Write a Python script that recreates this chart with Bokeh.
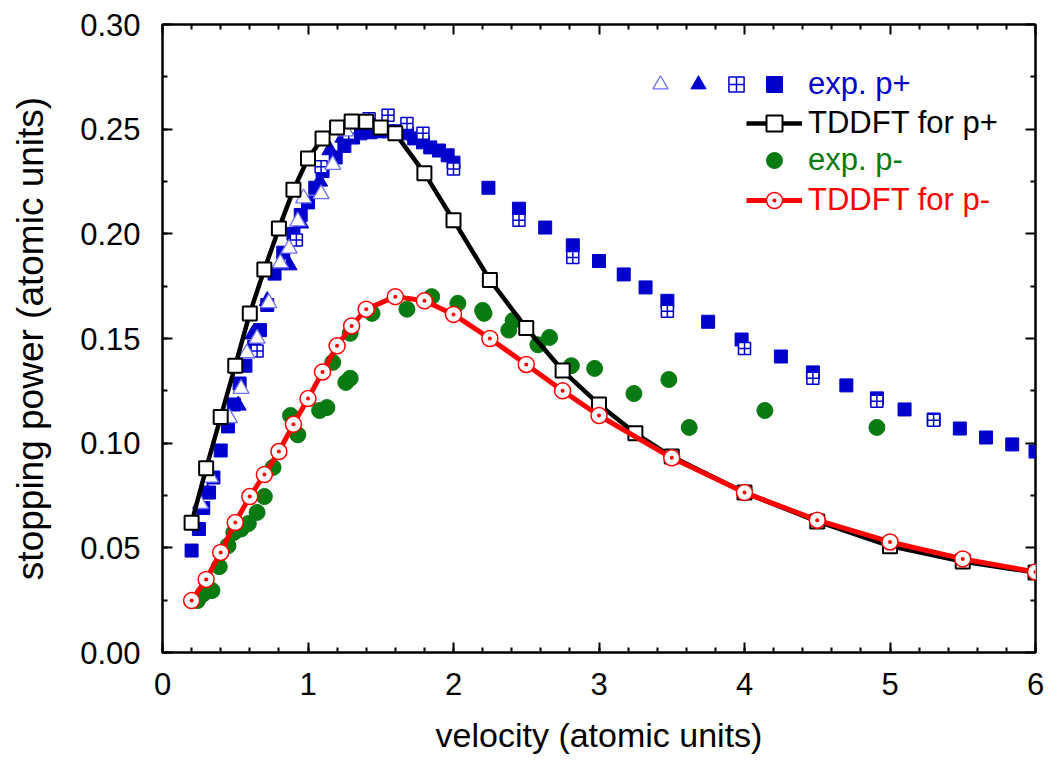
from bokeh.plotting import figure
from bokeh.models import (LinearAxis, Range1d, Legend, LegendItem,
                          PrintfTickFormatter, FixedTicker)
from bokeh.embed import file_html
from bokeh.resources import INLINE
from bokeh.core.properties import value

FONT = "Liberation Sans"

# ---------------- data ----------------
# TDDFT for p+
tddft_pp_v = [0.2, 0.3, 0.4, 0.5, 0.6, 0.7, 0.8, 0.9, 1.0, 1.1, 1.2, 1.3, 1.4, 1.5, 1.6,
              1.8, 2.0, 2.25, 2.5, 2.75, 3.0, 3.25, 3.5, 4.0, 4.5, 5.0, 5.5, 6.0]
tddft_pp_s = [0.062, 0.088, 0.1125, 0.137, 0.162, 0.183, 0.2026, 0.221, 0.236, 0.2456, 0.2508,
              0.2537, 0.2536, 0.2508, 0.248, 0.229, 0.2065, 0.178, 0.155, 0.1347, 0.1185,
              0.1047, 0.0936, 0.0764, 0.0626, 0.0508, 0.0435, 0.0382]

# TDDFT for p-
tddft_pm_v = [0.2, 0.3, 0.4, 0.5, 0.6, 0.7, 0.8, 0.9, 1.0, 1.1, 1.2, 1.3, 1.4, 1.6, 1.8,
              2.0, 2.25, 2.5, 2.75, 3.0, 3.5, 4.0, 4.5, 5.0, 5.5, 6.0]
tddft_pm_s = [0.0248, 0.0349, 0.0478, 0.0621, 0.0745, 0.085, 0.096, 0.109, 0.1213, 0.134,
              0.1465, 0.156, 0.164, 0.170, 0.168, 0.1615, 0.150, 0.1376, 0.125, 0.1132,
              0.093, 0.0764, 0.0632, 0.0528, 0.0447, 0.0385]

# exp. p+ : filled squares
exp_sq_v = [0.20, 0.25, 0.28, 0.32, 0.35, 0.40, 0.45, 0.49, 0.53, 0.57, 0.63, 0.67, 0.72, 0.77,
            0.83, 0.90, 0.95, 1.00, 1.05, 1.10, 1.19, 1.25, 1.31, 1.36, 1.43, 1.49, 1.55, 1.62,
            1.68, 1.73, 1.79, 1.84, 1.90, 1.96, 2.00, 2.24, 2.45, 2.63, 2.82, 3.00, 3.17, 3.32,
            3.47, 3.75, 3.98, 4.25, 4.47, 4.70, 4.91, 5.10, 5.30, 5.48, 5.66, 5.84, 6.00]
exp_sq_s = [0.0487, 0.059, 0.069, 0.0764, 0.0836, 0.0965, 0.108, 0.1185, 0.1285, 0.137, 0.146,
            0.154, 0.166, 0.181, 0.191, 0.200, 0.209, 0.215, 0.222, 0.230, 0.2365, 0.242, 0.246,
            0.248, 0.2485, 0.249, 0.249, 0.249, 0.248, 0.2456, 0.2437, 0.2413, 0.2398, 0.2375,
            0.234, 0.222, 0.212, 0.203, 0.1945, 0.187, 0.1806, 0.1744, 0.168, 0.158, 0.1495,
            0.1414, 0.1338, 0.1276, 0.1214, 0.1161, 0.1113, 0.107, 0.1027, 0.0994, 0.096]

# exp. p+ : squares with grid
exp_grid_v = [0.65, 0.92, 1.09, 1.28, 1.42, 1.55, 1.68, 1.79, 2.0, 2.45, 2.82, 3.47, 4.0,
              4.47, 4.91, 5.3]
exp_grid_s = [0.144, 0.197, 0.232, 0.248, 0.255, 0.2566, 0.2527, 0.248, 0.231, 0.2065, 0.1887,
              0.163, 0.1452, 0.131, 0.120, 0.111]

# exp. p+ : open triangles
exp_tri_o_v = [0.26, 0.33, 0.46, 0.54, 0.58, 0.65, 0.73, 0.81, 0.87, 0.93, 0.97, 1.09, 1.17, 1.26]
exp_tri_o_s = [0.071, 0.0836, 0.112, 0.126, 0.143, 0.150, 0.167, 0.186, 0.193, 0.206, 0.217,
               0.219, 0.233, 0.249]

# exp. p+ : filled triangles
exp_tri_f_v = [0.31, 0.52, 0.62, 0.72, 0.87, 0.95, 1.08, 1.15, 1.24]
exp_tri_f_s = [0.076, 0.118, 0.152, 0.168, 0.185, 0.205, 0.225, 0.240, 0.246]

# exp. p-
exp_pm_v = [0.24, 0.28, 0.34, 0.39, 0.45, 0.49, 0.54, 0.59, 0.65, 0.70, 0.76, 0.88, 0.93, 1.08,
            1.13, 1.17, 1.26, 1.29, 1.29, 1.44, 1.68, 1.85, 2.03, 2.2, 2.21, 2.38, 2.41, 2.58,
            2.66, 2.81, 2.97, 3.24, 3.48, 3.62, 4.14, 4.91]
exp_pm_s = [0.0248, 0.028, 0.0296, 0.041, 0.051, 0.0573, 0.059, 0.0616, 0.0669, 0.0745, 0.0884,
            0.1132, 0.104, 0.1156, 0.117, 0.1386, 0.129, 0.131, 0.1525, 0.162, 0.164, 0.170,
            0.1668, 0.1634, 0.162, 0.154, 0.1586, 0.147, 0.1505, 0.137, 0.1357, 0.1237, 0.1304,
            0.1075, 0.1156, 0.1075]

x_ticks = [0, 1, 2, 3, 4, 5, 6]
x_minor = [i / 5 for i in range(31)]
y_ticks = [0.0, 0.05, 0.10, 0.15, 0.20, 0.25, 0.30]
y_minor = [i * 0.025 for i in range(13)]

BLUE = "#0000cc"
LBLUE = "#6f6fff"
GREEN = "#087a12"
RED = "#ff0000"

# ---------------- figure ----------------
p = figure(width=1051, height=760, output_backend="svg", toolbar_location=None,
           x_range=Range1d(0, 6), y_range=Range1d(0, 0.30),
           min_border_left=162, min_border_right=16, min_border_top=24, min_border_bottom=108)
p.grid.visible = False
p.outline_line_color = "black"
p.outline_line_width = 2.5
p.background_fill_color = "white"
p.border_fill_color = "white"

def style_axis(ax, ticks, minor):
    ax.ticker = FixedTicker(ticks=ticks, minor_ticks=minor)
    ax.axis_line_color = None
    ax.major_tick_in = 10
    ax.major_tick_out = 0
    ax.minor_tick_in = 5
    ax.minor_tick_out = 0
    ax.major_tick_line_width = 2
    ax.minor_tick_line_width = 2
    ax.major_tick_line_color = "black"
    ax.minor_tick_line_color = "black"
    ax.major_label_text_font = FONT
    ax.major_label_text_color = "black"
    ax.major_label_text_font_size = "31px"

def mirror_axis(minor, length):
    # label-free axis: only minor ticks (which never carry labels)
    ax = LinearAxis(ticker=FixedTicker(ticks=[], minor_ticks=minor))
    ax.axis_line_color = None
    ax.major_tick_line_color = None
    ax.major_tick_in = 0
    ax.major_tick_out = 0
    ax.minor_tick_in = length
    ax.minor_tick_out = 0
    ax.minor_tick_line_width = 2
    ax.minor_tick_line_color = "black"
    ax.major_label_standoff = 0
    ax.axis_label_standoff = 0
    return ax

xb = p.xaxis[0]
yl = p.yaxis[0]
style_axis(xb, x_ticks, x_minor)
style_axis(yl, y_ticks, y_minor)
yl.formatter = PrintfTickFormatter(format="%.2f")
xb.major_label_standoff = 20
yl.major_label_standoff = 22
xb.axis_label = "velocity (atomic units)"
yl.axis_label = "stopping power (atomic units)"
for ax in (xb, yl):
    ax.axis_label_text_font = FONT
    ax.axis_label_text_font_style = "normal"
    ax.axis_label_text_color = "black"
xb.axis_label_text_font_size = "34px"
yl.axis_label_text_font_size = "37px"
xb.axis_label_standoff = 18
yl.axis_label_standoff = 26

x_only_minor = [t for t in x_minor if all(abs(t - m) > 1e-9 for m in x_ticks)]
y_only_minor = [t for t in y_minor if all(abs(t - m) > 1e-9 for m in y_ticks)]
p.add_layout(mirror_axis(x_ticks, 10), "above")
p.add_layout(mirror_axis(x_only_minor, 5), "above")
p.add_layout(mirror_axis(y_ticks, 10), "right")
p.add_layout(mirror_axis(y_only_minor, 5), "right")

# ---------------- glyphs ----------------
r_sq = p.scatter(exp_sq_v, exp_sq_s, marker="square", size=13, fill_color=BLUE,
                 line_color=BLUE, line_width=1)
r_trf = p.scatter(exp_tri_f_v, exp_tri_f_s, marker="triangle", size=16, fill_color=BLUE,
                  line_color=BLUE, line_width=1)
r_grid = p.scatter(exp_grid_v, exp_grid_s, marker="square_cross", size=12, fill_color="white",
                   line_color=BLUE, line_width=1.5)
r_tro = p.scatter(exp_tri_o_v, exp_tri_o_s, marker="triangle", size=16, fill_color="white",
                  line_color=LBLUE, line_width=1.3)
r_gr = p.scatter(exp_pm_v, exp_pm_s, marker="circle", size=16, fill_color=GREEN,
                 line_color=GREEN, line_width=1)

r_bl = p.line(tddft_pp_v, tddft_pp_s, line_color="black", line_width=4.5)
r_bs = p.scatter(tddft_pp_v, tddft_pp_s, marker="square", size=14, fill_color="white",
                 line_color="black", line_width=2)
r_rl = p.line(tddft_pm_v, tddft_pm_s, line_color=RED, line_width=5)
r_rc = p.scatter(tddft_pm_v, tddft_pm_s, marker="circle_dot", size=16, fill_color="white",
                 line_color=RED, line_width=1.5)

# ---------------- legends ----------------
def make_legend(items, loc, color="black", gw=56, orientation="vertical", standoff=6):
    leg = Legend(items=items, location=loc, orientation=orientation,
                 label_text_font=FONT, label_text_font_size="31px",
                 label_text_color=color, background_fill_alpha=0, border_line_alpha=0,
                 padding=0, margin=0, spacing=0, glyph_width=gw, glyph_height=40,
                 label_height=34, label_width=0, label_standoff=standoff)
    p.add_layout(leg)
    return leg

make_legend([LegendItem(label=value(""), renderers=[r_tro]),
             LegendItem(label=value(""), renderers=[r_trf]),
             LegendItem(label=value(""), renderers=[r_grid])],
            (479, 548), gw=38, orientation="horizontal", standoff=0)
make_legend([LegendItem(label=value("exp. p+"), renderers=[r_sq])], (584, 548), color=BLUE)
make_legend([LegendItem(label=value("TDDFT for p+"), renderers=[r_bl, r_bs])], (584, 509))
make_legend([LegendItem(label=value("exp. p-"), renderers=[r_gr])], (584, 472), color=GREEN)
make_legend([LegendItem(label=value("TDDFT for p-"), renderers=[r_rl, r_rc])], (584, 432),
            color=RED)

open("out.html", "w").write(file_html(p, INLINE))
